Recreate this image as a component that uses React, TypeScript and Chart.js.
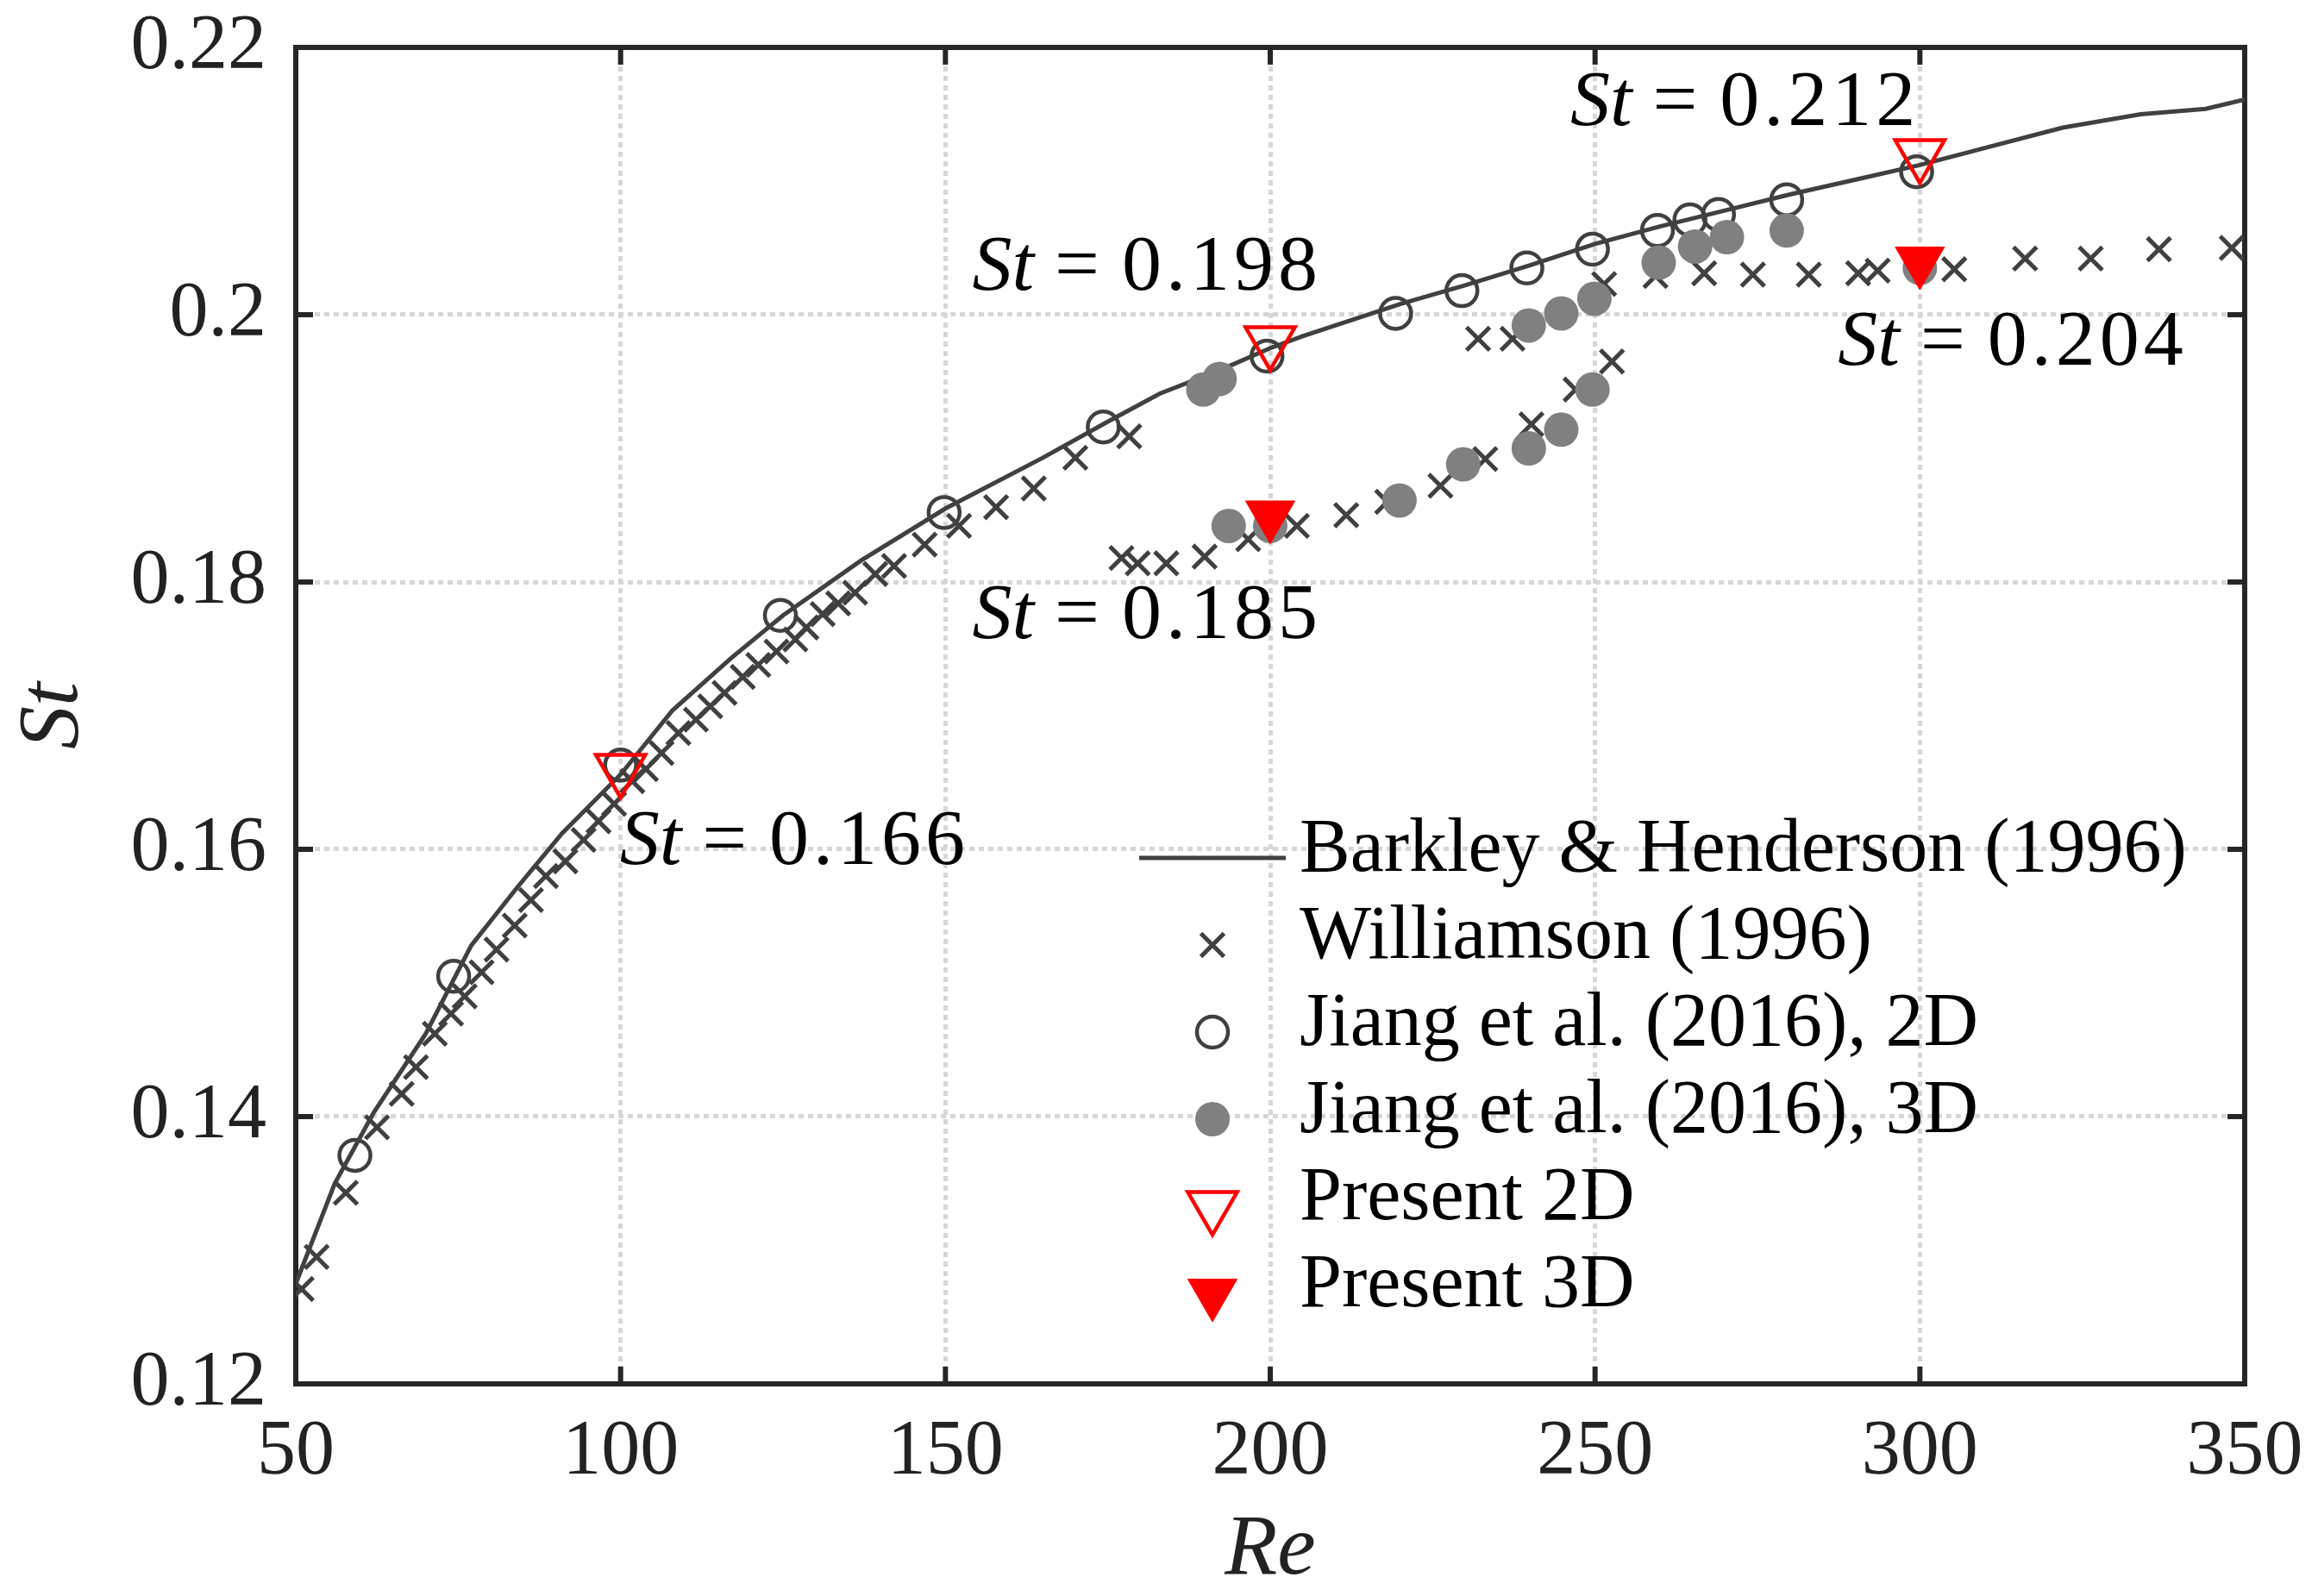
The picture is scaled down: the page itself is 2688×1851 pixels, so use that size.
import { useEffect, useRef } from 'react';
import Chart from 'chart.js/auto';
import { drawPoint } from 'chart.js/helpers';

type Pt = { x: number; y: number };

// --- data (Re, St) ---
const barkleyRe = [50, 56, 62, 70, 77, 84, 91, 100, 108, 117, 125, 137, 150, 165, 175, 183, 192, 200, 205, 220, 230, 240, 250, 260, 270, 280, 290, 300, 311, 322, 334, 344, 350];
const barkleySt = [0.1275, 0.135, 0.1403, 0.1462, 0.1528, 0.1571, 0.1612, 0.1656, 0.1704, 0.1743, 0.1775, 0.1816, 0.1855, 0.1893, 0.192, 0.1941, 0.1958, 0.1975, 0.1984, 0.2008, 0.2022, 0.2037, 0.2053, 0.2066, 0.2078, 0.209, 0.2101, 0.2112, 0.2126, 0.214, 0.215, 0.2154, 0.2161];

const williamsonRe = [
  50.9, 53.2, 57.7, 62.5, 66.3, 68.5, 71.4, 73.9, 76.0, 78.6, 80.9, 83.7, 86.2, 88.5, 91.5, 94.3, 96.6, 99.0,
  101.8, 103.9, 106.3, 108.9, 111.6, 113.8, 116.0, 118.8, 121.2, 124.0, 126.9, 128.6, 131.1, 133.5, 136.1,
  139.2, 142.1, 146.8, 152.1, 157.8, 163.6, 170.0, 178.3,
  177.1, 179.6, 184.0, 189.9, 196.6, 204.1, 211.7, 218.0, 226.2, 233.1, 240.2, 247.0, 252.6,
  232.0, 237.3, 251.4, 259.3, 266.8, 274.3, 282.9, 290.5, 293.5, 305.3, 316.2, 326.3, 336.8, 348.0,
];
const williamsonSt = [
  0.1271, 0.1295, 0.1343, 0.1392, 0.1417, 0.1437, 0.1462, 0.1477, 0.149, 0.1508, 0.1525, 0.1543, 0.1562, 0.158, 0.1591, 0.1607, 0.1621, 0.1634,
  0.1651, 0.166, 0.1672, 0.1687, 0.1697, 0.1707, 0.1717, 0.1729, 0.1738, 0.1748, 0.1757, 0.1766, 0.1776, 0.1784, 0.1792,
  0.1806, 0.1812, 0.1828, 0.1842, 0.1856, 0.187, 0.1893, 0.1909,
  0.1818, 0.1814, 0.1814, 0.1819, 0.1832, 0.1842, 0.185, 0.186, 0.1872, 0.1892, 0.1918, 0.1944, 0.1965,
  0.1982, 0.1982, 0.2023, 0.2029, 0.2031, 0.203, 0.203, 0.2031, 0.2033, 0.2034, 0.2042, 0.2042, 0.2049, 0.205,
];

const jiang2dRe = [59.1, 74.3, 100, 124.6, 149.8, 174.3, 199.5, 219.3, 229.5, 239.5, 249.6, 259.6, 264.6, 269.0, 279.5, 299.5];
const jiang2dSt = [0.1371, 0.1505, 0.1663, 0.1775, 0.1852, 0.1916, 0.1969, 0.2001, 0.2018, 0.2035, 0.2049, 0.2063, 0.2071, 0.2075, 0.2086, 0.2107];

const jiang3dRe = [189.7, 192.2, 193.6, 200, 219.9, 229.7, 239.8, 244.8, 249.6, 239.8, 244.8, 249.9, 259.8, 265.4, 270.3, 279.5, 300];
const jiang3dSt = [0.1944, 0.1952, 0.1842, 0.1842, 0.1861, 0.1888, 0.19, 0.1914, 0.1944, 0.1992, 0.2001, 0.2012, 0.2039, 0.2051, 0.2058, 0.2063, 0.2035];

const present2dRe = [100, 200, 300];
const present2dSt = [0.166, 0.198, 0.212];
const present3dRe = [200, 300];
const present3dSt = [0.185, 0.204];

const xTicks = [50, 100, 150, 200, 250, 300, 350];
const yTicks = [0.12, 0.14, 0.16, 0.18, 0.2, 0.22];

const zip = (xs: number[], ys: number[]): Pt[] => xs.map((x, i) => ({ x, y: ys[i] }));

// --- styling ---
const SERIF = '"Liberation Serif", "Times New Roman", serif';
const INK = '#222222';
const DARK = '#404040';
const GRAY = '#808080';
const RED = '#ff0000';
const GRID = '#d6d6d6';
const TICK_FONT = 90;
const ANN_FONT = 92;
const LEG_FONT = 88;

// St = value annotations: which present point, and where the text sits relative to it
const annotations = [
  { set: '2d', idx: 0, dx: -1, dy: 86, align: 'left' },
  { set: '2d', idx: 1, dx: 60, dy: -84, align: 'right' },
  { set: '3d', idx: 0, dx: 60, dy: 118, align: 'right' },
  { set: '2d', idx: 2, dx: 0, dy: -58, align: 'right' },
  { set: '3d', idx: 1, dx: -95, dy: 96, align: 'left' },
];

function drawStLabel(ctx: CanvasRenderingContext2D, value: string, x: number, y: number, align: string) {
  ctx.save();
  ctx.fillStyle = '#000';
  ctx.textBaseline = 'middle';
  ctx.textAlign = 'left';
  const italic = `italic ${ANN_FONT}px ${SERIF}`;
  const upright = `${ANN_FONT}px ${SERIF}`;
  ctx.font = italic;
  const wSt = ctx.measureText('St').width;
  ctx.font = upright;
  const wEq = ctx.measureText('=').width;
  (ctx as any).letterSpacing = '5px';
  const wNum = ctx.measureText(value).width;
  (ctx as any).letterSpacing = '0px';
  const g1 = 24;
  const g2 = 26;
  const total = wSt + g1 + wEq + g2 + wNum;
  let x0 = align === 'left' ? x : x - total;
  ctx.font = italic;
  ctx.fillText('St', x0, y);
  x0 += wSt + g1;
  ctx.font = upright;
  ctx.fillText('=', x0, y);
  x0 += wEq + g2;
  (ctx as any).letterSpacing = '5px';
  ctx.fillText(value, x0, y);
  ctx.restore();
}

const boxPlugin = {
  id: 'matlabBox',
  beforeDatasetsDraw(chart: any) {
    const { ctx, chartArea: a, scales } = chart;
    const tl = 20;
    ctx.save();
    ctx.strokeStyle = '#262626';
    ctx.lineWidth = 6;
    ctx.beginPath();
    xTicks.forEach((v) => {
      const px = scales.x.getPixelForValue(v);
      ctx.moveTo(px, a.bottom);
      ctx.lineTo(px, a.bottom - tl);
      ctx.moveTo(px, a.top);
      ctx.lineTo(px, a.top + tl);
    });
    yTicks.forEach((v) => {
      const py = scales.y.getPixelForValue(v);
      ctx.moveTo(a.left, py);
      ctx.lineTo(a.left + tl, py);
      ctx.moveTo(a.right, py);
      ctx.lineTo(a.right - tl, py);
    });
    ctx.stroke();
    ctx.lineJoin = 'miter';
    ctx.strokeRect(a.left, a.top, a.right - a.left, a.bottom - a.top);
    ctx.restore();
  },
  afterDraw(chart: any) {
    const { ctx, chartArea: a, scales } = chart;
    // annotations
    annotations.forEach((an) => {
      const re = an.set === '2d' ? present2dRe[an.idx] : present3dRe[an.idx];
      const st = an.set === '2d' ? present2dSt[an.idx] : present3dSt[an.idx];
      const px = scales.x.getPixelForValue(re);
      const py = scales.y.getPixelForValue(st);
      drawStLabel(ctx, st.toFixed(3), px + an.dx, py + an.dy, an.align);
    });
    // legend (no box, inside the axes, lower right)
    const markX = a.right - 1197;
    const textX = a.right - 1096;
    const row0 = a.top + 940;
    const step = 101;
    chart.data.datasets.forEach((ds: any, i: number) => {
      const y = row0 + i * step;
      ctx.save();
      if (ds.showLine) {
        ctx.strokeStyle = ds.borderColor;
        ctx.lineWidth = ds.borderWidth;
        ctx.beginPath();
        ctx.moveTo(markX - 85, y);
        ctx.lineTo(markX + 85, y);
        ctx.stroke();
      } else {
        ctx.fillStyle = ds.pointBackgroundColor;
        ctx.strokeStyle = ds.pointBorderColor;
        ctx.lineWidth = ds.pointBorderWidth;
        drawPoint(ctx, {
          pointStyle: ds.pointStyle,
          rotation: ds.pointRotation || 0,
          radius: ds.pointRadius,
          borderWidth: ds.pointBorderWidth,
        } as any, markX, y);
      }
      ctx.fillStyle = '#000';
      ctx.font = `${LEG_FONT}px ${SERIF}`;
      ctx.textBaseline = 'middle';
      ctx.textAlign = 'left';
      ctx.fillText(ds.label, textX, y - 8);
      ctx.restore();
    });
  },
};

const App = () => {
  const canvasRef = useRef<HTMLCanvasElement>(null);

  useEffect(() => {
    if (!canvasRef.current) return;
    document.body.style.margin = '0';

    const chart = new Chart(canvasRef.current, {
      type: 'scatter',
      data: {
        datasets: [
          {
            label: 'Barkley & Henderson (1996)',
            data: zip(barkleyRe, barkleySt),
            showLine: true,
            borderColor: DARK,
            borderWidth: 5,
            pointRadius: 0,
            order: 5,
          },
          {
            label: 'Williamson (1996)',
            data: zip(williamsonRe, williamsonSt),
            pointStyle: 'crossRot',
            pointRadius: 19,
            pointBorderWidth: 5,
            pointBorderColor: DARK,
            pointBackgroundColor: 'rgba(0,0,0,0)',
            order: 4,
          },
          {
            label: 'Jiang et al. (2016), 2D',
            data: zip(jiang2dRe, jiang2dSt),
            pointStyle: 'circle',
            pointRadius: 18,
            pointBorderWidth: 4.5,
            pointBorderColor: DARK,
            pointBackgroundColor: 'rgba(0,0,0,0)',
            order: 3,
          },
          {
            label: 'Jiang et al. (2016), 3D',
            data: zip(jiang3dRe, jiang3dSt),
            pointStyle: 'circle',
            pointRadius: 20,
            pointBorderWidth: 0,
            pointBorderColor: GRAY,
            pointBackgroundColor: GRAY,
            order: 2,
          },
          {
            label: 'Present 2D',
            data: zip(present2dRe, present2dSt),
            pointStyle: 'triangle',
            pointRotation: 180,
            pointRadius: 33,
            pointBorderWidth: 4.5,
            pointBorderColor: RED,
            pointBackgroundColor: 'rgba(0,0,0,0)',
            order: 1,
          },
          {
            label: 'Present 3D',
            data: zip(present3dRe, present3dSt),
            pointStyle: 'triangle',
            pointRotation: 180,
            pointRadius: 33,
            pointBorderWidth: 1,
            pointBorderColor: RED,
            pointBackgroundColor: RED,
            order: 0,
          },
        ] as any,
      },
      options: {
        responsive: false,
        animation: false,
        layout: { padding: { top: 55, right: 85, left: 0, bottom: 0 } },
        plugins: {
          legend: { display: false },
          tooltip: { enabled: false },
        },
        scales: {
          x: {
            type: 'linear',
            min: 50,
            max: 350,
            afterBuildTicks: (s: any) => {
              s.ticks = xTicks.map((v) => ({ value: v }));
            },
            afterFit: (s: any) => {
              s.height = 246;
              s.paddingLeft = 0;
              s.paddingRight = 0;
            },
            grid: { color: GRID, lineWidth: 5, drawTicks: false },
            border: { display: false, dash: [6, 5] },
            ticks: {
              color: INK,
              padding: 26,
              font: { family: SERIF, size: TICK_FONT },
              callback: (v: any) => String(v),
            },
            title: {
              display: true,
              text: 'Re',
              color: INK,
              padding: { top: 0, bottom: 2 },
              font: { family: SERIF, size: 100, style: 'italic', lineHeight: 1 },
            },
          },
          y: {
            type: 'linear',
            min: 0.12,
            max: 0.22,
            afterBuildTicks: (s: any) => {
              s.ticks = yTicks.map((v) => ({ value: v }));
            },
            afterFit: (s: any) => {
              s.width = 343;
              s.paddingTop = 0;
              s.paddingBottom = 0;
            },
            grid: { color: GRID, lineWidth: 5, drawTicks: false },
            border: { display: false, dash: [6, 5] },
            ticks: {
              color: INK,
              padding: 34,
              font: { family: SERIF, size: TICK_FONT },
              callback: (v: any) => String(+Number(v).toFixed(2)),
            },
            title: {
              display: true,
              text: 'St',
              color: INK,
              padding: { top: 13, bottom: 0 },
              font: { family: SERIF, size: 100, style: 'italic', lineHeight: 1 },
            },
          },
        },
      },
      plugins: [boxPlugin],
    });

    return () => {
      chart.destroy();
    };
  }, []);

  return (
    <div style={{ position: 'absolute', left: 0, top: 0, width: 2688, height: 1851, background: '#fff' }}>
      <canvas ref={canvasRef} width={2688} height={1851} style={{ display: 'block' }} />
    </div>
  );
};

export default App;
